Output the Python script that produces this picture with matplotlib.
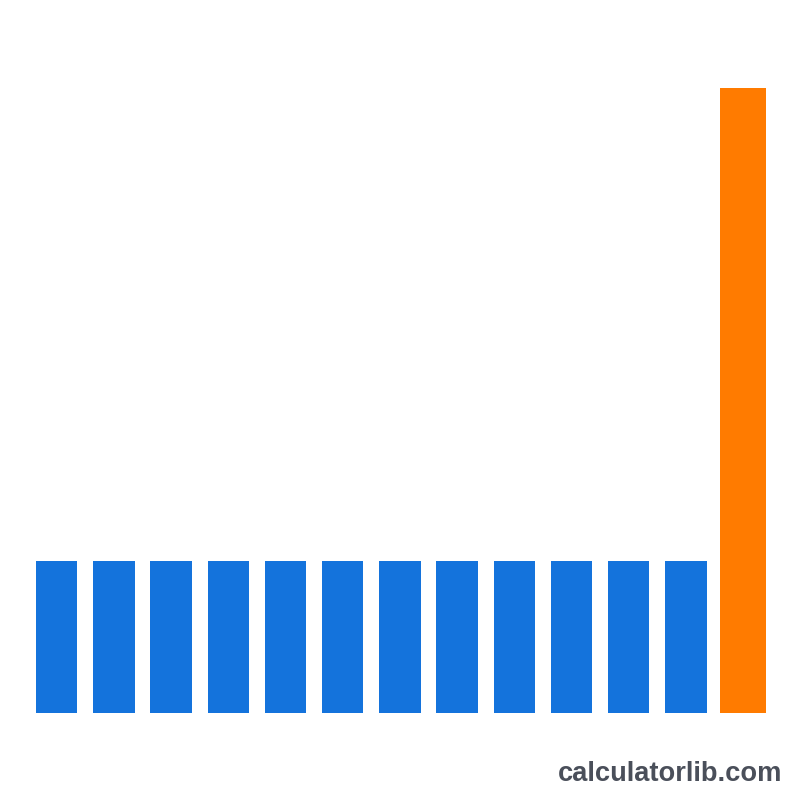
import matplotlib
matplotlib.use("Agg")

import matplotlib.pyplot as plt
import numpy as np

# 12 equal blue bars followed by one tall orange bar
blue_values = [1.0] * 12
orange_value = 4.11
watermark = "calculatorlib.com"

fig = plt.figure(figsize=(8, 8), dpi=100)
fig.patch.set_facecolor("white")
ax = fig.add_axes([0, 0, 1, 1])

x_blue = np.arange(len(blue_values))
ax.bar(x_blue, blue_values, width=0.722, color="#1473dc", linewidth=0)
ax.bar([len(blue_values)], [orange_value], width=0.816, color="#ff7b00", linewidth=0)

ax.set_xlim(-0.991, 12.995)
ax.set_ylim(-0.574, 4.689)
ax.axis("off")

fig.text(0.978, 0.024, watermark, ha="right", va="baseline",
         fontsize=19.6, fontweight="bold", color="#4a4f5a",
         family=["Liberation Sans", "DejaVu Sans"])

fig.savefig("out.png", dpi=100)
plt.close(fig)
